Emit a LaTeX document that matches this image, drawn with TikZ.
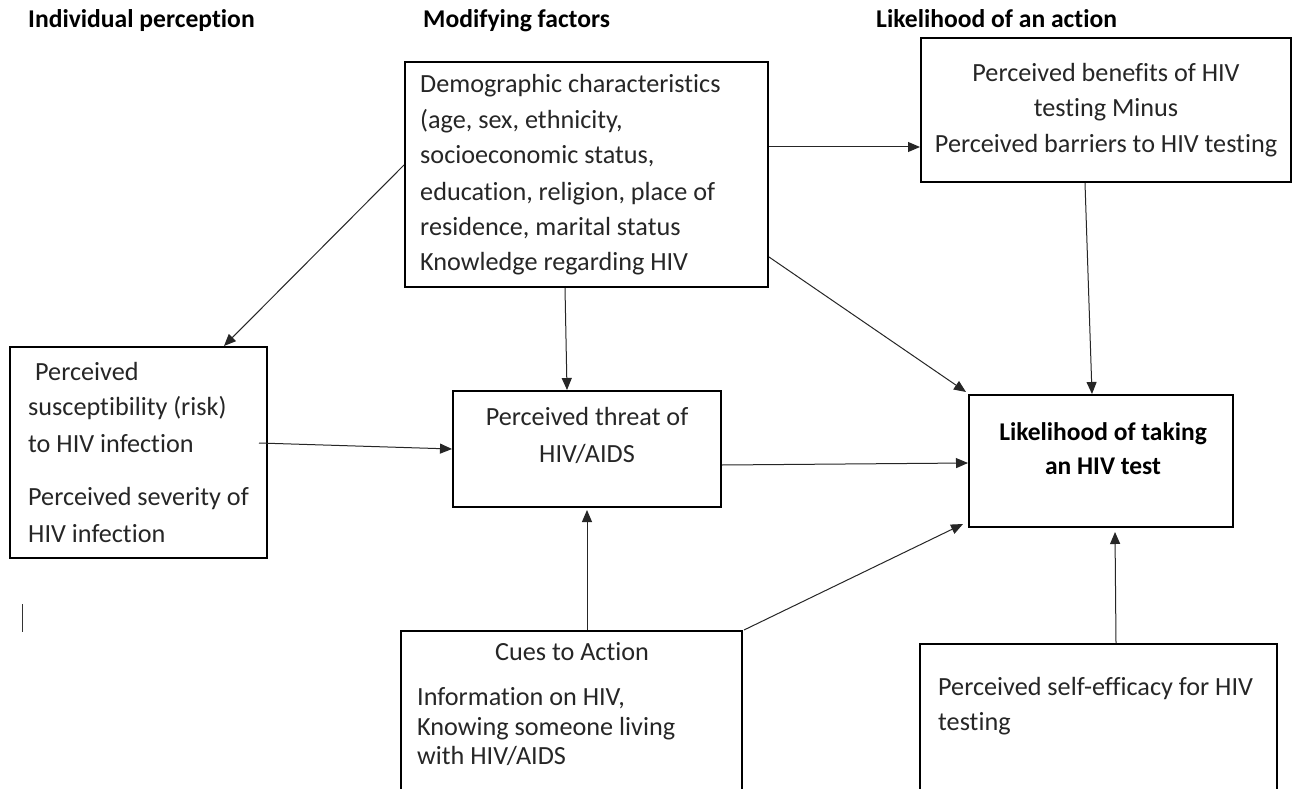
\documentclass[tikz,border=0pt]{standalone}
\usepackage{fontspec}
\setmainfont{Carlito}[Ligatures=CommonOff]
\usetikzlibrary{arrows.meta}
\tikzset{
  box/.style={draw=black, line width=2pt, rectangle, inner sep=0pt},
  conn/.style={draw=black!85, line width=1pt, -{Triangle[length=12pt,width=10pt]}},
  txt/.style={inner sep=0pt, font=\fontsize{26.2}{35}\selectfont, text=black!85},
  hdr/.style={inner sep=0pt, font=\fontsize{25.6}{30}\selectfont\bfseries, anchor=base west},
  bt/.style={inner sep=0pt, font=\fontsize{25.5}{35}\selectfont\bfseries},
  lt/.style={txt, anchor=base west},
  ct/.style={txt, anchor=base},
}
\begin{document}
\begin{tikzpicture}[x=1pt,y=-1pt]
\clip (0,0) rectangle (1293,789);
\fill[white] (0,0) rectangle (1293,789);

% headers
\node[hdr] (h1) at (28,28) {Individual perception};
\node[hdr] (h2) at (423,28) {Modifying factors};
\node[hdr] (h3) at (876,28) {Likelihood of an action};

% boxes (corners in px)
\node[box, minimum width=363pt, minimum height=225pt] (demo) at (586.5,174.5) {};
\node[box, minimum width=370pt, minimum height=144pt] (ben) at (1106,110) {};
\node[box, minimum width=257pt, minimum height=211pt] (susc) at (138.5,452.5) {};
\node[box, minimum width=268pt, minimum height=116pt] (threat) at (587,449) {};
\node[box, minimum width=264pt, minimum height=132pt] (like) at (1101,461) {};
\node[box, minimum width=341pt, minimum height=180pt] (cues) at (571.5,721) {};
\node[box, minimum width=357pt, minimum height=166pt] (self) at (1098.5,727) {};

% demographic text
\node[lt] (d1) at (420,93) {Demographic characteristics};
\node[lt] (d2) at (420,129) {(age, sex, ethnicity,};
\node[lt] (d3) at (420,164) {socioeconomic status,};
\node[lt] (d4) at (420,200) {education, religion, place of};
\node[lt] (d5) at (420,235) {residence, marital status};
\node[lt] (d6) at (420,270) {Knowledge regarding HIV};

% benefits text
\node[ct] (b1) at (1106,82) {Perceived benefits of HIV};
\node[ct] (b2) at (1106,117) {testing Minus};
\node[ct] (b3) at (1106,153) {Perceived barriers to HIV testing};

% susceptibility text
\node[lt] (s1) at (35,380) {Perceived};
\node[lt] (s2) at (28,415) {susceptibility (risk)};
\node[lt] (s3) at (28,452) {to HIV infection};
\node[lt] (s4) at (28,505) {Perceived severity of};
\node[lt] (s5) at (28,542) {HIV infection};

% threat text
\node[ct] (th1) at (587,425) {Perceived threat of};
\node[ct] (th2) at (587,462) {HIV/AIDS};

% likelihood text
\node[bt, anchor=base] (l1) at (1103,440) {Likelihood of taking};
\node[bt, anchor=base] (l2) at (1103,474) {an HIV test};

% cues text
\node[ct] (c1) at (572,660) {Cues to Action};
\node[lt] (c2) at (417,705) {Information on HIV,};
\node[lt] (c3) at (417,735) {Knowing someone living};
\node[lt] (c4) at (417,764) {with HIV/AIDS};

% self-efficacy text
\node[lt] (e1) at (938,695) {Perceived self-efficacy for HIV};
\node[lt] (e2) at (938,730) {testing};

% connectors
\draw[conn] ([yshift=9.5pt]demo.west) -- ([xshift=85.5pt]susc.north);
\draw[conn] ([xshift=-21.5pt]demo.south) -- ([xshift=-20pt]threat.north);
\draw[conn] ([yshift=27.5pt]demo.east) -- ([yshift=-37pt]ben.west);
\draw[conn] ([yshift=-82.5pt]demo.east) -- ([xshift=-2pt,yshift=2pt]like.north west);
\draw[conn] ([xshift=-21pt]ben.south) -- ([xshift=-9pt]like.north);
\draw[conn] ([xshift=-9pt,yshift=9.5pt]susc.east) -- (threat.west);
\draw[conn] ([yshift=-16pt]threat.east) -- ([yshift=-2pt]like.west);
\draw[conn] ([xshift=15.5pt]cues.north) -- ([yshift=-2pt]threat.south);
\draw[conn] ([xshift=1pt]cues.north east) -- ([xshift=-5pt,yshift=4pt]like.south west);
\draw[conn] ([xshift=17.5pt]self.north) -- ([xshift=14pt,yshift=-4pt]like.south);

% text cursor mark
\draw[line width=1pt, black!80] (22,604) -- (22,632);
\end{tikzpicture}
\end{document}
